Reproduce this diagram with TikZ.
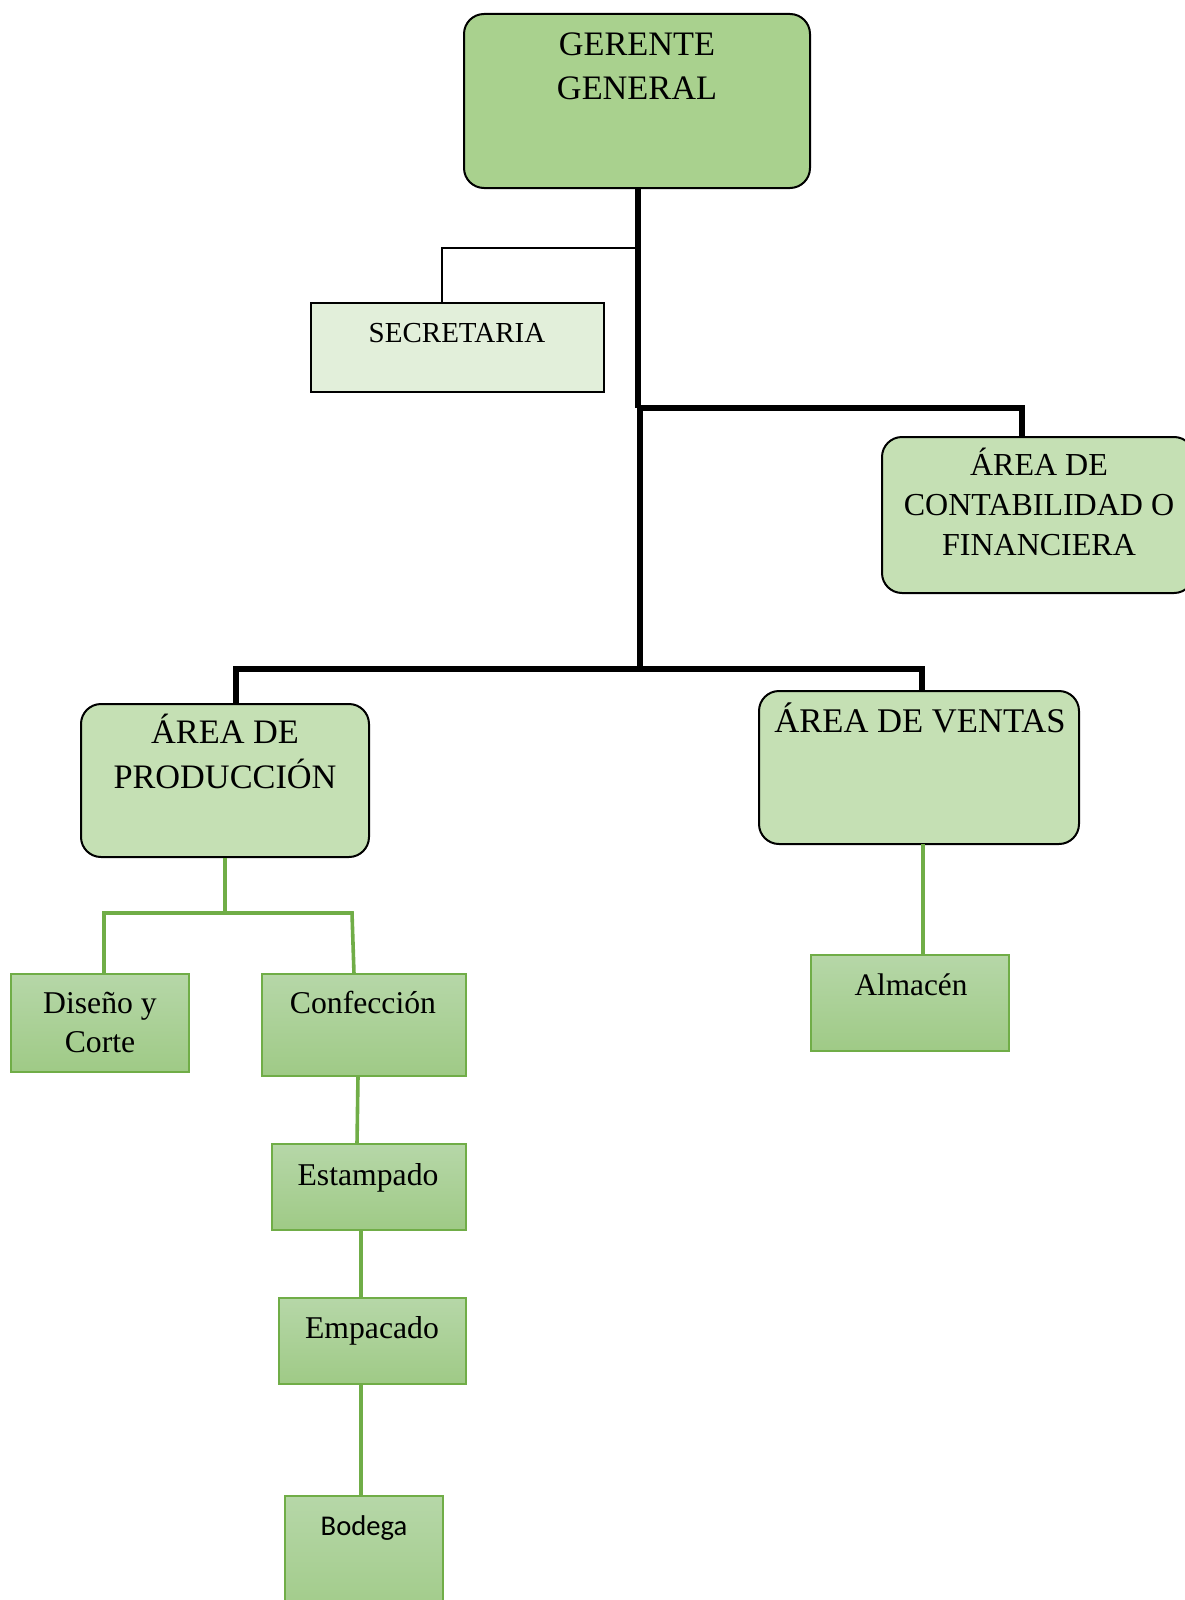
\documentclass[tikz,border=0pt]{standalone}
\usepackage{fontspec}
\setmainfont{Liberation Serif}
\newfontfamily\calfont{Carlito}
\definecolor{gerfill}{HTML}{A9D18E}
\definecolor{secfill}{HTML}{E2EFDA}
\definecolor{areafill}{HTML}{C5E0B4}
\definecolor{gline}{HTML}{70AD47}
\definecolor{gtop}{HTML}{B6D7A8}
\definecolor{gbot}{HTML}{9FCA86}
\newcommand{\ctrlines}[2]{\vtop{\baselineskip=#1\halign{\hfil##\hfil\cr#2\crcr}}}
\tikzset{
  bigbox/.style={draw=black, line width=2pt, rounded corners=20pt, fill=areafill, inner sep=0pt},
  secbox/.style={draw=black, line width=1.6pt, fill=secfill, inner sep=0pt},
  smallbox/.style={draw=gline, line width=1.6pt, top color=gtop, bottom color=gbot, inner sep=0pt},
  txt/.style={inner sep=0pt, anchor=base},
  blk/.style={draw=black, line width=6pt},
  thinblk/.style={draw=black, line width=1.5pt},
  grn/.style={draw=gline, line width=3.6pt}
}
\begin{document}
\begin{tikzpicture}[x=1pt,y=-1pt]
\useasboundingbox (0,0) rectangle (1184,1600);
\fill[white] (0,0) rectangle (1184,1600);

% connector junctions (black)
\coordinate (js) at (638,248);
\coordinate (jsl) at (442,248);
\coordinate (j1) at (638,407.5);
\coordinate (c1) at (1022,407.5);
\coordinate (j1b) at (640,407.5);
\coordinate (j2) at (640,669);
\coordinate (pl) at (236,669);
\coordinate (vr) at (922,669);

% boxes
\node[bigbox, fill=gerfill, minimum width=346pt, minimum height=174pt] (ger) at (637,101) {};
\node[secbox, minimum width=293pt, minimum height=89pt] (sec) at (457.5,347.5) {};
\node[bigbox, minimum width=312pt, minimum height=156pt] (con) at (1038,515) {};
\node[bigbox, minimum width=288pt, minimum height=153pt] (prod) at (225,780.5) {};
\node[bigbox, minimum width=320pt, minimum height=153pt] (ven) at (919,767.5) {};
\node[smallbox, minimum width=178pt, minimum height=98pt] (dis) at (100,1023) {};
\node[smallbox, minimum width=204pt, minimum height=102pt] (conf) at (364,1025) {};
\node[smallbox, minimum width=194pt, minimum height=86pt] (est) at (369,1187) {};
\node[smallbox, minimum width=187pt, minimum height=86pt] (emp) at (372.5,1341) {};
\node[smallbox, minimum width=158pt, minimum height=130pt] (bod) at (364,1561) {};
\node[smallbox, minimum width=198pt, minimum height=96pt] (alm) at (910,1003) {};

% black connectors
\draw[blk] (ger.south -| j1) -- (j1);
\draw[thinblk] (js) -- (jsl) -- (jsl |- sec.north);
\draw[blk] (j1) -- (c1) -- (c1 |- con.north);
\draw[blk] (j1b) -- (j2);
\draw[blk] (pl |- prod.north) -- (pl) -- (vr) -- (vr |- ven.north);

% green connectors
\coordinate (g1) at (225,913);
\coordinate (gl) at (104,913);
\coordinate (gr) at (352,913);
\coordinate (gr2) at (354,974);
\draw[grn] (prod.south) -- (g1);
\draw[grn] (gl |- dis.north) -- (gl) -- (gr) -- (gr2);
\coordinate (e1) at (358,1076);
\coordinate (e2) at (357,1144);
\draw[grn] (e1) -- (e2);
\coordinate (e3) at (361,1230);
\draw[grn] (e3) -- (e3 |- emp.north);
\coordinate (e4) at (361,1384);
\draw[grn] (e4) -- (e4 |- bod.north);
\coordinate (a1) at (923,844);
\draw[grn] (a1) -- (a1 |- alm.north);

% texts
\node[txt] (gerT) at (637,56) {\fontsize{34.3}{44}\selectfont\ctrlines{44pt}{GERENTE\cr GENERAL}};
\node[txt] (secT) at (457,342) {\fontsize{29}{34}\selectfont SECRETARIA};
\node[txt] (conT) at (1039,475) {\fontsize{32}{40}\selectfont\ctrlines{40pt}{ÁREA DE\cr CONTABILIDAD O\cr FINANCIERA}};
\node[txt] (prodT) at (225,743) {\fontsize{34.3}{45}\selectfont\ctrlines{45pt}{ÁREA DE\cr PRODUCCIÓN}};
\node[txt] (venT) at (920,732) {\fontsize{34.6}{44}\selectfont ÁREA DE VENTAS};
\node[txt] (disT) at (100,1013) {\fontsize{31.7}{39}\selectfont\ctrlines{39pt}{Diseño y\cr Corte}};
\node[txt] (confT) at (363,1013) {\fontsize{31.7}{39}\selectfont Confección};
\node[txt] (estT) at (368,1185) {\fontsize{31.7}{39}\selectfont Estampado};
\node[txt] (empT) at (372,1338) {\fontsize{31.7}{39}\selectfont Empacado};
\node[txt] (bodT) at (364,1535) {\calfont\fontsize{28.6}{34}\selectfont Bodega};
\node[txt] (almT) at (911,995) {\fontsize{31.3}{39}\selectfont Almacén};
\end{tikzpicture}
\end{document}
